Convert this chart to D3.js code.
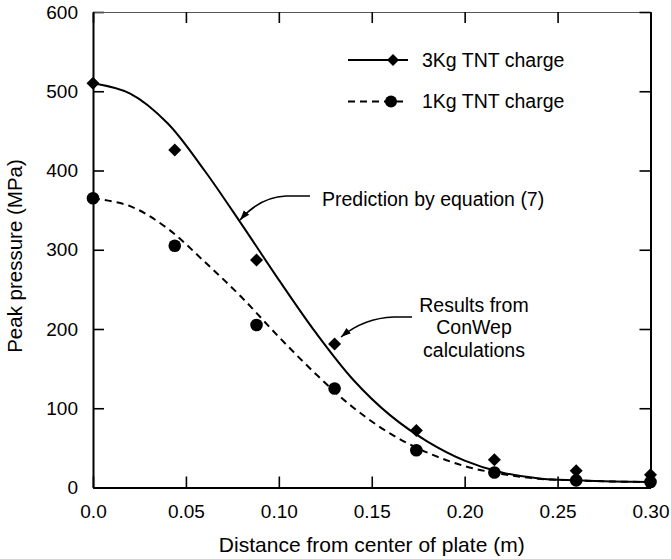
<!DOCTYPE html>
<html>
<head>
<meta charset="utf-8">
<script src="https://cdn.jsdelivr.net/npm/d3@7"></script>
<style>
    body { margin: 0; background: #fff; }
    text { font-family: "Liberation Sans", Arial, Helvetica, sans-serif; fill: #000; }
</style>
</head>
<body>
<div id="chart"></div>
<script>
// ConWep results (markers)
var distances = [0, 0.044, 0.088, 0.13, 0.174, 0.216, 0.26, 0.30];
var conwep3kg = [510, 426, 287, 181, 72, 35, 21, 16];
var conwep1kg = [365, 305, 205, 125, 47, 19, 9, 7];

// prediction curves
var predX = [0, 0.02, 0.04, 0.06, 0.08, 0.10, 0.12, 0.14, 0.16, 0.18, 0.20, 0.22, 0.24, 0.26, 0.28, 0.30];
var pred3kg = [510, 497, 460, 400, 332, 262, 195, 136, 91, 58, 34, 19, 11.5, 9, 7.5, 7];
var pred1kg = [365, 355, 327, 285, 240, 190, 143, 101, 68, 44, 27, 17, 11, 9, 7.5, 7];

var xTicks = [0, 0.05, 0.10, 0.15, 0.20, 0.25, 0.30];
var xTickLabels = ["0.0", "0.05", "0.10", "0.15", "0.20", "0.25", "0.30"];
var yTicks = [0, 100, 200, 300, 400, 500, 600];

var width = 671, height = 559;
var plotLeft = 93, plotRight = 650.5, plotTop = 12, plotBottom = 487.5;

var svg = d3.select("#chart").append("svg")
    .attr("width", width)
    .attr("height", height);

var defs = svg.append("defs");
defs.append("marker")
    .attr("id", "arrow")
    .attr("markerUnits", "userSpaceOnUse")
    .attr("markerWidth", 12)
    .attr("markerHeight", 12)
    .attr("viewBox", "0 0 12 12")
    .attr("refX", 10)
    .attr("refY", 6)
    .attr("orient", "auto")
    .append("path")
    .attr("d", "M0,2.5 L10,6 L0,9.5 Z")
    .style("fill", "#000");

var x = d3.scaleLinear().domain([0, 0.3]).range([plotLeft, plotRight]);
var y = d3.scaleLinear().domain([0, 600]).range([plotBottom, plotTop]);

//axes
var xAxis = d3.axisBottom(x).tickValues(xTicks)
    .tickFormat((d, i) => xTickLabels[i])
    .tickSizeInner(-11).tickSizeOuter(0).tickPadding(17);
var gx = svg.append("g").attr("transform", "translate(0," + plotBottom + ")").call(xAxis);

var yAxis = d3.axisLeft(y).tickValues(yTicks)
    .tickSizeInner(-11).tickSizeOuter(0).tickPadding(15);
var gy = svg.append("g").attr("transform", "translate(" + plotLeft + ",0)").call(yAxis);

var xTop = d3.axisTop(x).tickValues(xTicks).tickFormat("")
    .tickSizeInner(-11).tickSizeOuter(0);
var gxt = svg.append("g").attr("transform", "translate(0," + plotTop + ")").call(xTop);

var yRight = d3.axisRight(y).tickValues(yTicks).tickFormat("")
    .tickSizeInner(-11).tickSizeOuter(0);
var gyr = svg.append("g").attr("transform", "translate(" + plotRight + ",0)").call(yRight);

[gx, gy, gyr].forEach(function(g) {
    g.select(".domain").attr("stroke", "#000").attr("stroke-width", 2);
    g.selectAll(".tick line").attr("stroke", "#000").attr("stroke-width", 1.6);
});
gxt.select(".domain").attr("stroke", "#555").attr("stroke-width", 1.2);
gxt.selectAll(".tick line").attr("stroke", "#000").attr("stroke-width", 1.6);

[gx, gy].forEach(function(g) {
    g.attr("font-size", 19).attr("font-family", null);
    g.selectAll(".tick text").attr("fill", "#000");
});

//axis titles
svg.append("text")
    .attr("x", (plotLeft + plotRight) / 2)
    .attr("y", 552)
    .attr("font-size", 21)
    .attr("text-anchor", "middle")
    .text("Distance from center of plate (m)");

svg.append("text")
    .attr("transform", "translate(22,256) rotate(-90)")
    .attr("font-size", 20.5)
    .attr("text-anchor", "middle")
    .text("Peak pressure (MPa)");

//prediction curves
var line = d3.line()
    .curve(d3.curveCatmullRom.alpha(0.5))
    .x(d => x(d[0]))
    .y(d => y(d[1]));

svg.append("path")
    .attr("d", line(d3.zip(predX, pred3kg)))
    .attr("fill", "none")
    .attr("stroke", "#000")
    .attr("stroke-width", 2);

svg.append("path")
    .attr("d", line(d3.zip(predX, pred1kg)))
    .attr("fill", "none")
    .attr("stroke", "#000")
    .attr("stroke-width", 2)
    .attr("stroke-dasharray", "7,5");

//markers
var diamond = "M0,-6.5 L6.5,0 L0,6.5 L-6.5,0 Z";
svg.append("g").selectAll("path")
    .data(d3.zip(distances, conwep3kg))
    .join("path")
    .attr("d", diamond)
    .attr("transform", d => "translate(" + x(d[0]) + "," + y(d[1]) + ")")
    .attr("fill", "#000");

svg.append("g").selectAll("circle")
    .data(d3.zip(distances, conwep1kg))
    .join("circle")
    .attr("cx", d => x(d[0]))
    .attr("cy", d => y(d[1]))
    .attr("r", 6.3)
    .attr("fill", "#000");

//legend
var legend = svg.append("g").attr("id", "legend");
legend.append("line")
    .attr("x1", 348).attr("x2", 408).attr("y1", 60).attr("y2", 60)
    .attr("stroke", "#000").attr("stroke-width", 2);
legend.append("path")
    .attr("d", "M0,-6 L6,0 L0,6 L-6,0 Z")
    .attr("transform", "translate(393,60)");
legend.append("text")
    .attr("x", 422).attr("y", 66.5)
    .attr("font-size", 19.5)
    .text("3Kg TNT charge");

legend.append("line")
    .attr("x1", 348).attr("x2", 408).attr("y1", 101.5).attr("y2", 101.5)
    .attr("stroke", "#000").attr("stroke-width", 2)
    .attr("stroke-dasharray", "7,5");
legend.append("circle")
    .attr("cx", 391).attr("cy", 101.5).attr("r", 6);
legend.append("text")
    .attr("x", 422).attr("y", 107.5)
    .attr("font-size", 19.5)
    .text("1Kg TNT charge");

//annotations
svg.append("text")
    .attr("x", 322).attr("y", 206)
    .attr("font-size", 19.5)
    .text("Prediction by equation (7)");
svg.append("path")
    .attr("d", "M310,196 L286,196 Q260,197 240,220")
    .attr("fill", "none")
    .attr("stroke", "#000")
    .attr("stroke-width", 1.5)
    .attr("marker-end", "url(#arrow)");

var note = svg.append("text")
    .attr("font-size", 19.5)
    .attr("text-anchor", "middle");
["Results from", "ConWep", "calculations"].forEach(function(s, i) {
    note.append("tspan")
        .attr("x", 474)
        .attr("y", 311.5 + i * 22.5)
        .text(s);
});
svg.append("path")
    .attr("d", "M412,317 L394,317 Q364,318 341,337")
    .attr("fill", "none")
    .attr("stroke", "#000")
    .attr("stroke-width", 1.5)
    .attr("marker-end", "url(#arrow)");
</script>
</body>
</html>
